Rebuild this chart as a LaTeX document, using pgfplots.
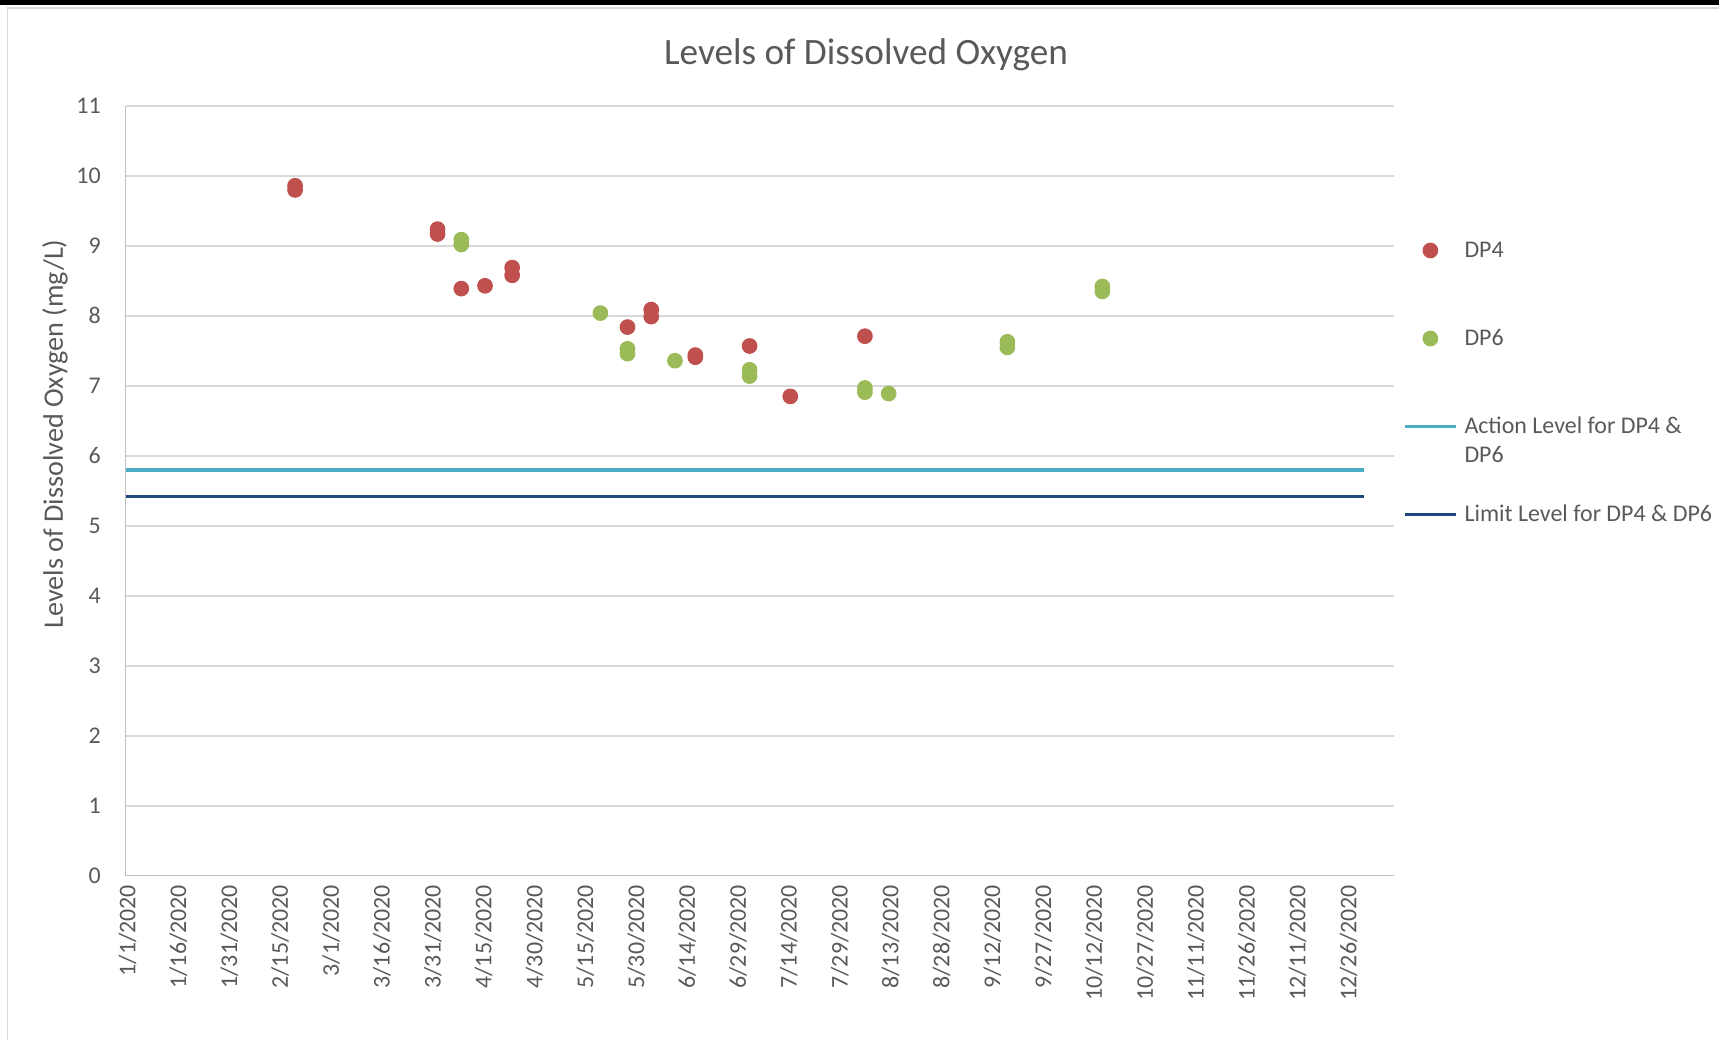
\documentclass[border=0pt]{standalone}
\usepackage{pgfplots}
\pgfplotsset{compat=1.18}
\usepackage{fontspec}
\setmainfont{Carlito}
\definecolor{tc}{HTML}{595959}
\definecolor{dpfour}{HTML}{C0504D}
\definecolor{dpsix}{HTML}{9BBB59}
\definecolor{act}{HTML}{4BACC6}
\definecolor{lim}{HTML}{1F497D}
\definecolor{gridc}{HTML}{D9D9D9}
\definecolor{axl}{HTML}{BFBFBF}
\begin{document}
\begin{tikzpicture}
\useasboundingbox (0,0) rectangle (646.34pt,391.04pt);
\fill[black] (0,389.27pt) rectangle (646.34pt,391.04pt);
\draw[gridc, line width=0.6pt] (2.82pt,0) -- (2.82pt,388.03pt) -- (646.34pt,388.03pt);
\node[font=\fontsize{14}{17}\selectfont, text=tc] at (325.6pt,370.6pt) {Levels of Dissolved Oxygen};
\begin{axis}[
  at={(47.19pt,61.78pt)}, anchor=south west,
  width=476.96pt, height=289.41pt, scale only axis,
  xmin=0, xmax=374, ymin=0, ymax=11,
  axis lines=left,
  axis line style={axl, line width=0.6pt, -},
  ymajorgrids, grid style={gridc, line width=0.6pt},
  major tick length=0pt,
  ytick={0,1,...,11},
  xtick={0,15,...,360},
  xticklabels={1/1/2020,1/16/2020,1/31/2020,2/15/2020,3/1/2020,3/16/2020,3/31/2020,4/15/2020,4/30/2020,5/15/2020,5/30/2020,6/14/2020,6/29/2020,7/14/2020,7/29/2020,8/13/2020,8/28/2020,9/12/2020,9/27/2020,10/12/2020,10/27/2020,11/11/2020,11/26/2020,12/11/2020,12/26/2020},
  tick label style={font=\fontsize{9}{11}\selectfont, text=tc},
  xticklabel style={rotate=90, anchor=east, yshift=-0.76pt},
  yticklabel style={xshift=-5.8pt},
  /pgf/number format/assume math mode=true,
  ylabel={Levels of Dissolved Oxygen (mg/L)},
  ylabel style={at={(axis description cs:-0.0556,0.574)}, anchor=center, font=\fontsize{10.6}{12}\selectfont, text=tc},
  legend style={at={(1.0068,0.8285)}, anchor=north west, draw=none, fill=none, inner sep=0pt,
    row sep=24.1pt, column sep=2.6pt, font=\fontsize{9}{11}\selectfont, text=tc,
    nodes={inner sep=0pt, text height=7pt, text depth=2pt}},
  legend cell align=left,
  legend image code/.code={\draw[mark repeat=2,mark phase=2,#1] plot coordinates {(0pt,0pt)(9.6pt,0pt)(19.2pt,0pt)};},
  clip=false,
]
\addplot[only marks, mark=*, mark size=2.75pt, color=dpfour, mark options={fill=dpfour, draw=dpfour}] coordinates {
 (50,9.86) (50,9.80) (92,9.24) (92,9.17) (99,8.39) (106,8.43) (114,8.69) (114,8.58)
 (148,7.84) (155,8.09) (155,7.99) (168,7.44) (168,7.41) (184,7.57) (196,6.85) (218,7.71)
};
\addlegendentry{DP4}
\addplot[only marks, mark=*, mark size=2.75pt, color=dpsix, mark options={fill=dpsix, draw=dpsix}] coordinates {
 (99,9.09) (99,9.02) (140,8.04) (148,7.53) (148,7.46) (162,7.36) (184,7.23) (184,7.14)
 (218,6.97) (218,6.91) (225,6.89) (260,7.63) (260,7.55) (288,8.42) (288,8.35)
};
\addlegendentry{DP6}
\addplot[act, line width=1.25pt, no marks] coordinates {(0,5.8) (365,5.8)};
\addlegendentry{\begin{tabular}[t]{@{}l@{}}Action Level for DP4 \&\\DP6\end{tabular}}
\addplot[lim, line width=1.25pt, no marks] coordinates {(0,5.42) (365,5.42)};
\addlegendentry{Limit Level for DP4 \& DP6}
\end{axis}
\end{tikzpicture}
\end{document}
